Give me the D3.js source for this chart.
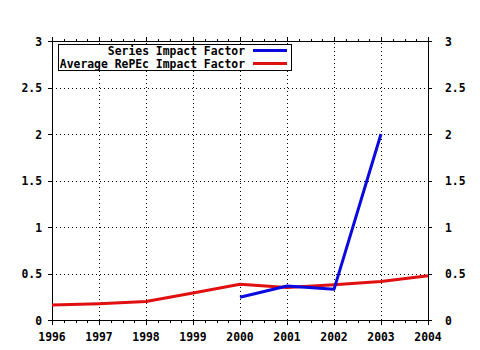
<!DOCTYPE html>
<html>
<head>
<meta charset="utf-8">
<script src="https://cdn.jsdelivr.net/npm/d3@7"></script>
<style>
  html, body { margin: 0; padding: 0; background: #fff; }
  svg { display: block; }
  text { font-family: "DejaVu Sans Mono", "Liberation Mono", monospace; font-weight: bold; font-size: 11.4px; fill: #000; }
</style>
</head>
<body>
<script>
// Impact factor series, by year
const years = [1996, 1997, 1998, 1999, 2000, 2001, 2002, 2003, 2004];
const seriesYears = [2000, 2001, 2002, 2003];
const seriesImpact = [0.245, 0.365, 0.33, 2.0];
const averageImpact = [0.16, 0.175, 0.20, 0.29, 0.385, 0.35, 0.38, 0.415, 0.475];
const yTicks = [0, 0.5, 1, 1.5, 2, 2.5, 3];
const yTickLabels = ["0", "0.5", "1", "1.5", "2", "2.5", "3"];
const legendLabels = ["Series Impact Factor", "Average RePEc Impact Factor"];
const colors = ["#0a0ae0", "#e01010"];

const W = 480, H = 350;
const svg = d3.select("body").append("svg").attr("width", W).attr("height", H);

const x = d3.scaleLinear().domain([1996, 2004]).range([52, 428]);
const y = d3.scaleLinear().domain([0, 3]).range([320, 41]);

const px = v => Math.round(v) + 0.5;

// dotted grid
const grid = svg.append("g").attr("stroke", "#000").attr("stroke-width", 1).attr("stroke-dasharray", "1,3");
grid.selectAll(".gx").data(years.slice(1, -1)).join("line")
  .attr("x1", d => px(x(d))).attr("x2", d => px(x(d)))
  .attr("y1", y(0)).attr("y2", y(3));
grid.selectAll(".gy").data(yTicks.slice(1, -1)).join("line")
  .attr("y1", d => px(y(d))).attr("y2", d => px(y(d)))
  .attr("x1", x(1996)).attr("x2", x(2004));

// frame lines
const frame = svg.append("g").attr("stroke", "#000").attr("stroke-width", 1).attr("shape-rendering", "crispEdges");
frame.append("line").attr("x1", px(x(1996))).attr("x2", px(x(1996))).attr("y1", y(3) - 3).attr("y2", y(0) + 5);
frame.append("line").attr("x1", px(x(2004))).attr("x2", px(x(2004))).attr("y1", y(3) - 3).attr("y2", y(0) + 5);
frame.append("line").attr("x1", x(1996)).attr("x2", x(2004)).attr("y1", px(y(3))).attr("y2", px(y(3)));
frame.append("line").attr("x1", x(1996)).attr("x2", x(2004)).attr("y1", px(y(0))).attr("y2", px(y(0)));

// x ticks: major at years, minor at quarter years
const minorX = d3.range(1996, 2004.001, 0.25).filter(d => Math.abs(d - Math.round(d)) > 1e-6);
frame.selectAll(".tb").data(years).join("line")
  .attr("x1", d => px(x(d))).attr("x2", d => px(x(d)))
  .attr("y1", y(0)).attr("y2", y(0) + 5);
frame.selectAll(".tbm").data(minorX).join("line")
  .attr("x1", d => px(x(d))).attr("x2", d => px(x(d)))
  .attr("y1", y(0)).attr("y2", y(0) + 3);
frame.selectAll(".tt").data(years).join("line")
  .attr("x1", d => px(x(d))).attr("x2", d => px(x(d)))
  .attr("y1", y(3) - 4).attr("y2", y(3));
frame.selectAll(".ttm").data(minorX).join("line")
  .attr("x1", d => px(x(d))).attr("x2", d => px(x(d)))
  .attr("y1", y(3) - 2).attr("y2", y(3));
// y ticks, both sides
frame.selectAll(".tl").data(yTicks).join("line")
  .attr("y1", d => px(y(d))).attr("y2", d => px(y(d)))
  .attr("x1", x(1996) - 4).attr("x2", x(1996));
frame.selectAll(".tr").data(yTicks).join("line")
  .attr("y1", d => px(y(d))).attr("y2", d => px(y(d)))
  .attr("x1", x(2004)).attr("x2", x(2004) + 4);

// tick labels
svg.append("g").selectAll("text").data(years).join("text")
  .attr("x", d => x(d)).attr("y", 341).attr("text-anchor", "middle").text(d => d);
svg.append("g").selectAll("text").data(yTicks).join("text")
  .attr("x", 42).attr("y", d => y(d) + 4.5).attr("text-anchor", "end")
  .text((d, i) => yTickLabels[i]);
svg.append("g").selectAll("text").data(yTicks).join("text")
  .attr("x", 445).attr("y", d => y(d) + 4.5).attr("text-anchor", "start")
  .text((d, i) => yTickLabels[i]);

// series lines
const line = d3.line().x(d => x(d[0])).y(d => y(d[1]));
svg.append("path")
  .attr("d", line(years.map((yr, i) => [yr, averageImpact[i]])))
  .attr("fill", "none").attr("stroke", colors[1]).attr("stroke-width", 3).attr("stroke-linejoin", "round");
svg.append("path")
  .attr("d", line(seriesYears.map((yr, i) => [yr, seriesImpact[i]])))
  .attr("fill", "none").attr("stroke", colors[0]).attr("stroke-width", 3).attr("stroke-linejoin", "round");

// legend
const lg = svg.append("g");
lg.append("rect").attr("x", 58.5).attr("y", 44.5).attr("width", 233).attr("height", 26)
  .attr("fill", "#fff").attr("stroke", "#000").attr("stroke-width", 1);
legendLabels.forEach((t, i) => {
  const cy = 50.5 + i * 13;
  lg.append("text").attr("x", 245).attr("y", cy + 4.5).attr("text-anchor", "end").text(t);
  lg.append("line").attr("x1", 253).attr("x2", 287).attr("y1", cy).attr("y2", cy)
    .attr("stroke", colors[i]).attr("stroke-width", 3);
});
</script>
</body>
</html>
